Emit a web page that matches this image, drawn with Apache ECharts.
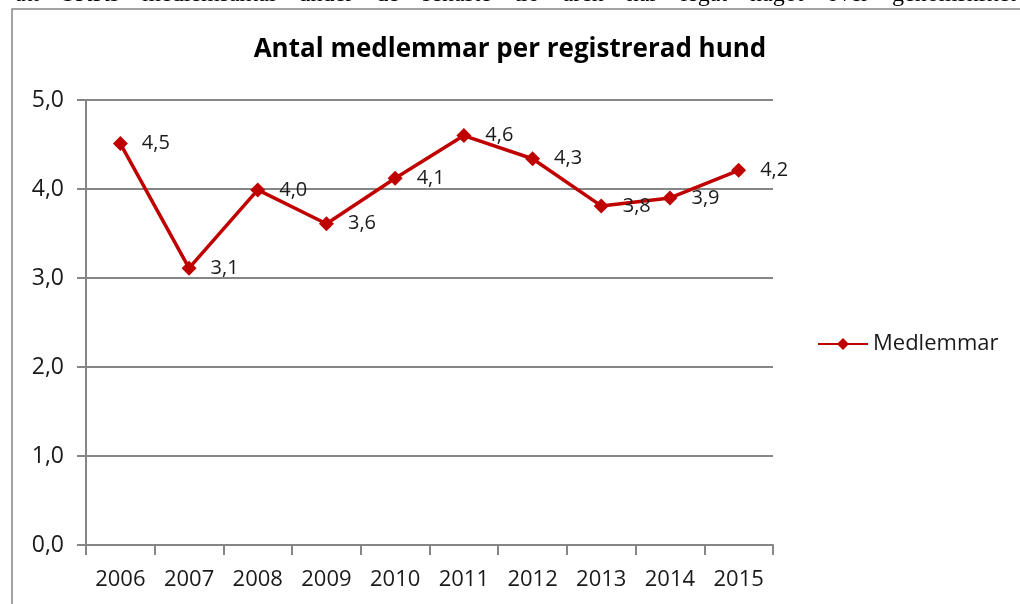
<!DOCTYPE html>
<html>
<head>
<meta charset="utf-8">
<script src="https://cdn.jsdelivr.net/npm/echarts@6/dist/echarts.min.js"></script>
<style>
  html, body { margin: 0; padding: 0; background: #fff; }
  #chart { width: 1020px; height: 604px; }
</style>
</head>
<body>
<div id="chart"></div>
<script>
// data
const years = ['2006', '2007', '2008', '2009', '2010', '2011', '2012', '2013', '2014', '2015']
const medlemmar = [4.51, 3.11, 3.99, 3.61, 4.12, 4.60, 4.34, 3.81, 3.90, 4.21]
const yTicks = [0, 1, 2, 3, 4, 5]
const topLine = 'att SKKs medlemsantal under de senaste tio åren har legat något över genomsnittet'

const comma = v => v.toFixed(1).replace('.', ',')

// justified line of body text above the chart, mostly cut off by the page edge
const bodyFont = '24px "Liberation Serif", serif'
const ctx = document.createElement('canvas').getContext('2d')
ctx.font = bodyFont
const words = topLine.split(' ')
const widths = words.map(w => ctx.measureText(w).width)
const lineLeft = 15, lineRight = 1016
const gap = (lineRight - lineLeft - widths.reduce((a, b) => a + b, 0)) / (words.length - 1)
let cursor = lineLeft
const wordGraphics = words.map((w, i) => {
  const g = {
    type: 'text',
    x: cursor,
    y: 6.5,
    style: { text: w, font: bodyFont, fill: '#000', verticalAlign: 'bottom' }
  }
  cursor += widths[i] + gap
  return g
})

const myChart = echarts.init(document.querySelector('#chart'))

const option = {
  animation: false,
  textStyle: { fontFamily: 'Open Sans, sans-serif' },
  title: {
    text: 'Antal medlemmar per registrerad hund',
    left: 'center',
    top: 32,
    textStyle: { fontSize: 26, fontWeight: 'bold', color: '#000', fontFamily: 'Open Sans' }
  },
  graphic: [
    ...wordGraphics,
    // white strip under the text so only its bottom edge shows above the frame
    {
      type: 'rect',
      shape: { x: 0, y: 9, width: 1020, height: 10 },
      style: { fill: '#fff' }
    },
    // frame of the chart box
    {
      type: 'polyline',
      shape: { points: [[12, 620], [12, 9], [1030, 9]] },
      style: { stroke: '#868686', lineWidth: 1.5, fill: null }
    }
  ],
  legend: {
    data: ['Medlemmar'],
    left: 812,
    top: 328,
    itemWidth: 50,
    itemHeight: 15,
    itemGap: 10,
    textStyle: { fontSize: 22, color: '#1a1a1a' }
  },
  grid: {
    left: 86,
    top: 100,
    width: 687,
    height: 445
  },
  xAxis: {
    type: 'category',
    data: years,
    boundaryGap: true,
    axisLine: { lineStyle: { color: '#868686', width: 2 } },
    axisTick: { show: true, length: 10, interval: 0, lineStyle: { color: '#868686', width: 2 } },
    axisLabel: { color: '#1a1a1a', fontSize: 22, margin: 24 }
  },
  yAxis: {
    type: 'value',
    min: yTicks[0],
    max: yTicks[yTicks.length - 1],
    interval: 1,
    axisLine: { show: true, lineStyle: { color: '#868686', width: 2 } },
    axisTick: { show: true, length: 9, lineStyle: { color: '#868686', width: 2 } },
    axisLabel: { color: '#1a1a1a', fontSize: 23, margin: 22, formatter: v => comma(v) },
    splitLine: { lineStyle: { color: '#868686', width: 2 } }
  },
  series: [
    {
      name: 'Medlemmar',
      type: 'line',
      data: medlemmar,
      symbol: 'diamond',
      symbolSize: 15,
      itemStyle: { color: '#c00000' },
      lineStyle: { color: '#c00000', width: 3.5 },
      label: {
        show: true,
        position: 'right',
        distance: 14,
        color: '#1a1a1a',
        fontSize: 20,
        formatter: p => comma(p.value)
      }
    }
  ]
}

myChart.setOption(option)
</script>
</body>
</html>
